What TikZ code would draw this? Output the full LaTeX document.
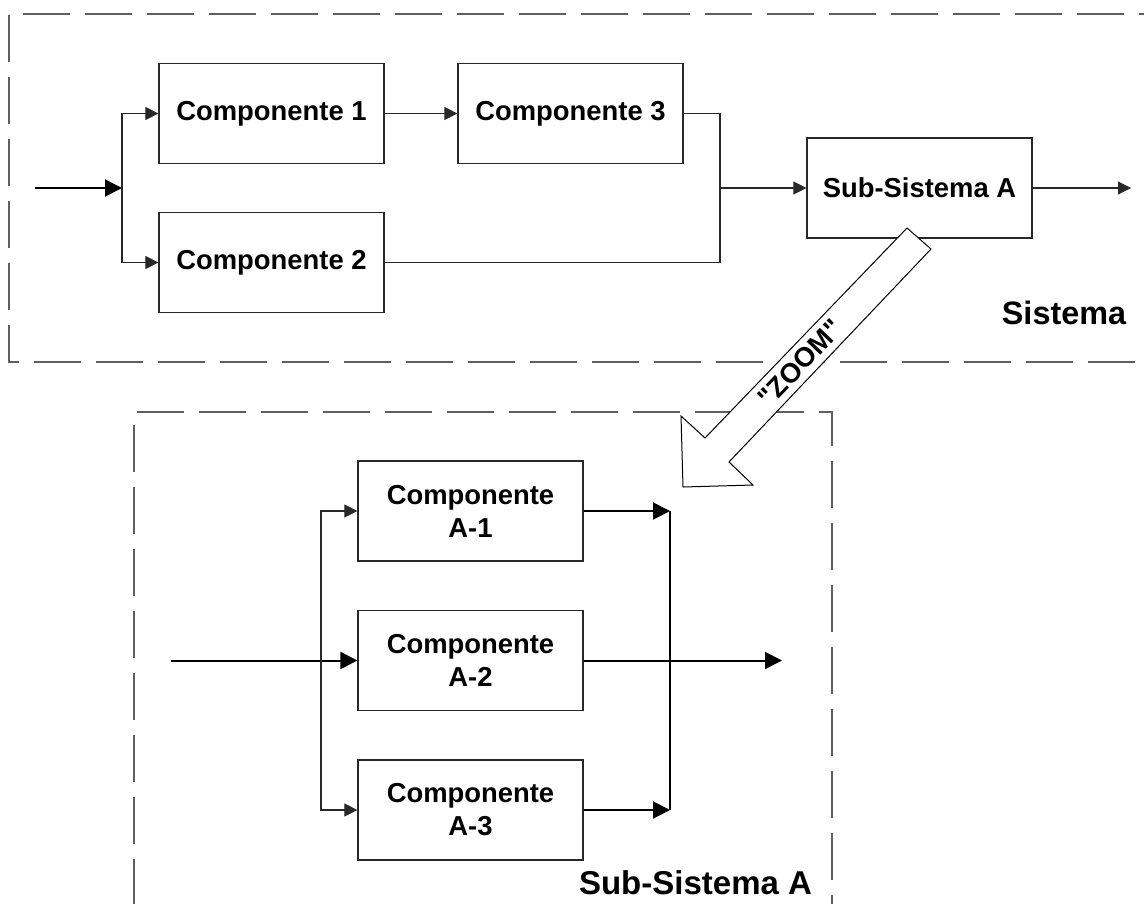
\documentclass[tikz,border=0pt]{standalone}
\usepackage{fontspec}
\setmainfont{Liberation Sans}
\newfontfamily\zoomfont[Ligatures=TeXOff]{Liberation Sans}
\usetikzlibrary{arrows.meta}
\definecolor{dashgray}{RGB}{95,95,95}
\definecolor{boxline}{RGB}{40,40,40}
\begin{document}
\begin{tikzpicture}[x=0.5pt,y=-0.5pt,
  compbox/.style={draw=boxline, line width=0.6pt, minimum width=112.5pt, minimum height=50pt,
    inner sep=0pt, align=center, font=\bfseries\fontsize{13.7}{16.5}\selectfont},
  thinline/.style={line width=0.55pt, draw=boxline},
  thickline/.style={line width=1pt, draw=black},
  smallarr/.style={-{Triangle[length=6.5pt,width=6.5pt]}},
  bigarr/.style={-{Triangle[length=8.5pt,width=8.5pt]}},
  frame/.style={draw=dashgray, line width=0.6pt, dash pattern=on 23.5pt off 7.5pt},
  lbl/.style={font=\bfseries\fontsize{16.2}{19}\selectfont, inner sep=0pt}]
\useasboundingbox (0,0) rectangle (1144,904);
\clip (0,0) rectangle (1144,904);

% ---- dashed frames
\draw[frame] (23,14) -- (1144,14);
\draw[frame] (9,15) -- (9,362) -- (1144,362);
\draw[frame] (137,412) -- (832,412) -- (832,904);
\draw[frame] (134,425) -- (134,904);

% ---- top system
\node[compbox] (c1) at (271.5,113.5) {Componente 1};
\node[compbox] (c2) at (271.5,262.5) {Componente 2};
\node[compbox] (c3) at (570.5,113.5) {Componente 3};
\node[compbox] (ssa) at (919.5,188) {Sub-Sistema A};

\coordinate (in1) at (35,188);
\coordinate (j1) at (122,188);
\coordinate (j2) at (720,188);
\coordinate (out1) at (1131,188);

\draw[thickline,bigarr] (in1) -- (j1);
\draw[thinline,smallarr] (j1) |- (c1.west);
\draw[thinline,smallarr] (j1) |- (c2.west);
\draw[thinline,smallarr] (c1.east) -- (c3.west);
\draw[thinline] (c3.east) -| (j2);
\draw[thinline] (c2.east) -| (j2);
\draw[thinline,smallarr] (j2) -- (ssa.west);
\draw[thinline,smallarr] (ssa.east) -- (out1);

\node[lbl] (sistema) at (1064,313) {Sistema};

% ---- bottom sub-system
\node[compbox] (a1) at (470.5,511) {Componente\\A-1};
\node[compbox] (a2) at (470.5,660.5) {Componente\\A-2};
\node[compbox] (a3) at (470.5,810) {Componente\\A-3};

\coordinate (in2) at (171,660.5);
\coordinate (j3) at (321,660.5);
\coordinate (j4t) at (670,511);
\coordinate (j4b) at (670,810);
\coordinate (out2) at (782,660.5);

\draw[thickline,bigarr] (in2) -- (a2.west);
\draw[thinline,smallarr] (j3) |- (a1.west);
\draw[thinline,smallarr] (j3) |- (a3.west);
\draw[thickline,bigarr] (a1.east) -- (j4t);
\draw[thickline,bigarr] (a3.east) -- (j4b);
\draw[thickline] (j4t) -- (j4b);
\draw[thickline,bigarr] (a2.east) -- (out2);

\node[lbl, font=\bfseries\fontsize{16.5}{19}\selectfont] (subsis) at (695.5,883) {Sub-Sistema A};

% ---- zoom block arrow
\draw[draw=black, line width=0.5pt, fill=white, line join=miter]
  (907,228) -- (931,249) -- (729,462) -- (753,485) -- (683,487) -- (681,416) -- (705,438) -- cycle;
\node[font=\zoomfont\bfseries\fontsize{13.7}{16}\selectfont, rotate=46.4, inner sep=0pt] (zoomtxt) at (800,363) {"ZOOM"};
\end{tikzpicture}
\end{document}
